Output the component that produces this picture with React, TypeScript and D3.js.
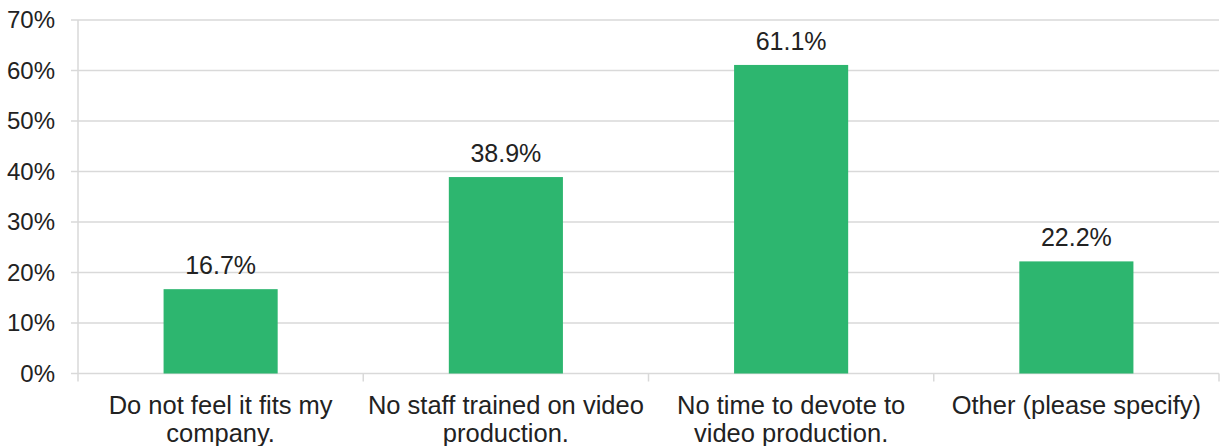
import React from "react";
import * as d3 from "d3";

const categories = [
  ["Do not feel it fits my", "company."],
  ["No staff trained on video", "production."],
  ["No time to devote to", "video production."],
  ["Other (please specify)"],
];
const values = [16.7, 38.9, 61.1, 22.2];
const yTicks = [0, 10, 20, 30, 40, 50, 60, 70];

export default function App() {
  const W = 1220, H = 446;
  const left = 78, right = 1219, top = 20, bottom = 373.5;
  const x = d3.scaleBand<number>().domain(values.map((_, i) => i)).range([left, right]).paddingInner(0.6).paddingOuter(0.3);
  const xb = d3.scaleBand<number>().domain(values.map((_, i) => i)).range([left, right]);
  const y = d3.scaleLinear().domain([0, 70]).range([bottom, top]);
  const grid = "#d9d9d9";
  const txt = "#222";
  const font = "'Liberation Sans', Arial, sans-serif";
  return (
    <svg width={W} height={H} style={{ position: "absolute", left: 0, top: 0 }} fontFamily={font}>
      {yTicks.map((t) => (
        <g key={t}>
          <line x1={71} x2={right} y1={y(t)} y2={y(t)} stroke={grid} strokeWidth={1.5} />
          <text x={55} y={y(t)} dy="0.35em" textAnchor="end" fontSize={24} fill={txt}>{t}%</text>
        </g>
      ))}
      <line x1={left} x2={left} y1={top} y2={bottom + 8} stroke={grid} strokeWidth={1.5} />
      {values.map((_, i) => (
        <line key={i} x1={xb(i)! + xb.bandwidth()} x2={xb(i)! + xb.bandwidth()} y1={bottom} y2={bottom + 8} stroke={grid} strokeWidth={1.5} />
      ))}
      {values.map((v, i) => (
        <g key={i}>
          <rect x={x(i)} y={y(v)} width={x.bandwidth()} height={bottom - y(v)} fill="#2db66f" />
          <text x={x(i)! + x.bandwidth() / 2} y={y(v) - 15} textAnchor="middle" fontSize={25} fill={txt}>{v.toFixed(1)}%</text>
        </g>
      ))}
      {categories.map((lines, i) => (
        <text key={i} x={xb(i)! + xb.bandwidth() / 2} textAnchor="middle" fontSize={25.5} fill={txt}>
          {lines.map((l, j) => (
            <tspan key={j} x={xb(i)! + xb.bandwidth() / 2} y={414 + j * 28}>{l}</tspan>
          ))}
        </text>
      ))}
    </svg>
  );
}
